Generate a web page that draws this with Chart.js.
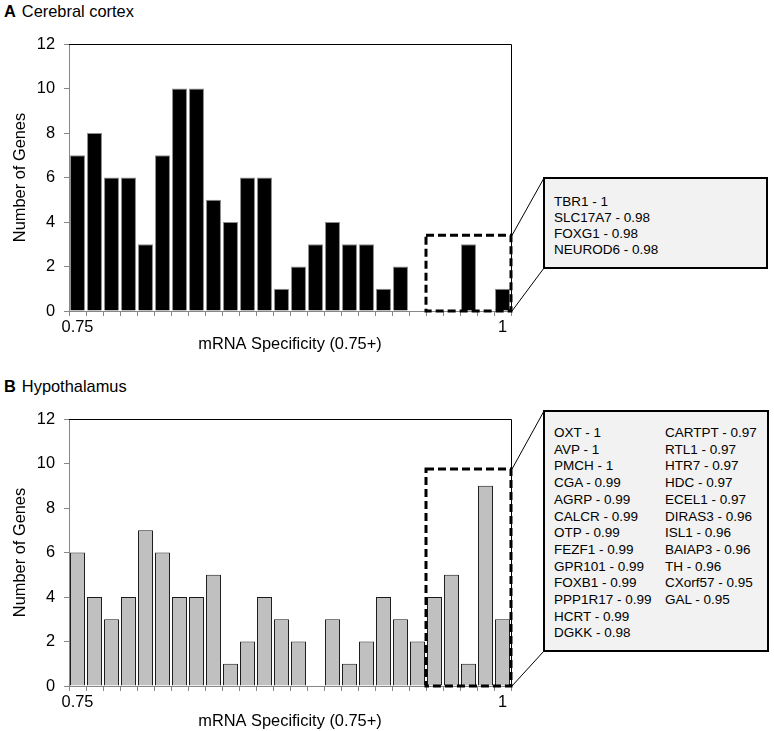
<!DOCTYPE html>
<html>
<head>
<meta charset="utf-8">
<script src="https://cdn.jsdelivr.net/npm/chart.js@4"></script>
<style>
  body { margin: 0; background: #fff; font-family: "Liberation Sans", Arial, sans-serif; }
  #page { position: relative; width: 774px; height: 731px; }
  canvas { position: absolute; left: 0; }
  .panel-title { position: absolute; left: 4px; font-size: 16.4px; line-height: 18px; }
  .panel-title b { margin-right: 6px; }
  .callout {
    position: absolute; box-sizing: border-box; left: 543px;
    border: 2px solid #000; background: #f2f2f2;
    font-size: 13.5px; color: #000; white-space: nowrap;
  }
  .callout .col { position: absolute; top: 0; }
</style>
</head>
<body>
<div id="page">
  <div class="panel-title" style="top:2px"><b>A</b>Cerebral cortex</div>
  <canvas id="cortex" width="774" height="360" style="top:0"></canvas>
  <div class="callout" id="cortexBox" style="top:177px;width:225px;height:92px;padding:15px 0 0 9px;line-height:16px"></div>

  <div class="panel-title" style="top:377px"><b>B</b>Hypothalamus</div>
  <canvas id="hypo" width="774" height="356" style="top:375px"></canvas>
  <div class="callout" id="hypoBox" style="top:410px;width:226px;height:242px;line-height:16.7px">
    <div class="col" id="hypoCol1" style="left:9px;top:13px"></div>
    <div class="col" id="hypoCol2" style="left:120px;top:13px"></div>
  </div>
</div>
<script>
// bins of mRNA specificity, 0.75 .. 1
const specificity = ["0.75", "0.76", "0.77", "0.78", "0.79", "0.8", "0.81", "0.82", "0.83",
  "0.84", "0.85", "0.86", "0.87", "0.88", "0.89", "0.9", "0.91", "0.92", "0.93", "0.94",
  "0.95", "0.96", "0.97", "0.98", "0.99", "1"];

const cortexGenes = [7, 8, 6, 6, 3, 7, 10, 10, 5, 4, 6, 6, 1, 2, 3, 4, 3, 3, 1, 2, 0, 0, 0, 3, 0, 1];
const hypothalamusGenes = [6, 4, 3, 4, 7, 6, 4, 4, 5, 1, 2, 4, 3, 2, 0, 3, 1, 2, 4, 3, 2, 4, 5, 1, 9, 3];

// top genes listed in the callouts
const cortexTop = ["TBR1 - 1", "SLC17A7 - 0.98", "FOXG1 - 0.98", "NEUROD6 - 0.98"];
const hypoTopLeft = ["OXT - 1", "AVP - 1", "PMCH - 1", "CGA - 0.99", "AGRP - 0.99",
  "CALCR - 0.99", "OTP - 0.99", "FEZF1 - 0.99", "GPR101 - 0.99", "FOXB1 - 0.99",
  "PPP1R17 - 0.99", "HCRT - 0.99", "DGKK - 0.98"];
const hypoTopRight = ["CARTPT - 0.97", "RTL1 - 0.97", "HTR7 - 0.97", "HDC - 0.97",
  "ECEL1 - 0.97", "DIRAS3 - 0.96", "ISL1 - 0.96", "BAIAP3 - 0.96", "TH - 0.96",
  "CXorf57 - 0.95", "GAL - 0.95"];

document.getElementById("cortexBox").innerHTML = cortexTop.join("<br>");
document.getElementById("hypoCol1").innerHTML = hypoTopLeft.join("<br>");
document.getElementById("hypoCol2").innerHTML = hypoTopRight.join("<br>");

const FONT = { family: "'Liberation Sans', Arial, sans-serif", size: 16.4 };
const AXIS_GREY = "#878787";

// dashed zoom rectangle + connector lines to the callout box
const zoomBox = {
  id: "zoomBox",
  afterDraw(chart, args, opts) {
    const { ctx, chartArea: a, scales: { x, y } } = chart;
    const half = (x.getPixelForValue(1) - x.getPixelForValue(0)) / 2;
    const left = x.getPixelForValue(opts.from) - half;
    const top = y.getPixelForValue(opts.top);
    const bottom = y.getPixelForValue(0);

    ctx.save();
    // plot frame top and right
    ctx.strokeStyle = "#000";
    ctx.lineWidth = 1;
    ctx.beginPath();
    ctx.moveTo(a.left, a.top + 0.5);
    ctx.lineTo(a.right + 0.5, a.top + 0.5);
    ctx.lineTo(a.right + 0.5, a.bottom);
    ctx.stroke();

    ctx.lineWidth = 3;
    ctx.setLineDash([8, 4]);
    ctx.strokeRect(left, top, a.right - left, bottom - top);

    const box = document.getElementById(opts.callout);
    const cv = chart.canvas;
    const bx = box.offsetLeft - cv.offsetLeft + 1;
    const by1 = box.offsetTop - cv.offsetTop + 1;
    const by2 = by1 + box.offsetHeight - 2;
    ctx.setLineDash([]);
    ctx.lineWidth = 1;
    ctx.beginPath();
    ctx.moveTo(bx, by1);
    ctx.lineTo(a.right + 1, top);
    ctx.moveTo(bx, by2);
    ctx.lineTo(a.right + 1, bottom);
    ctx.stroke();
    ctx.restore();
  }
};

function makeChart(id, values, fill, border, axisHeight, titlePad, zoomTop, callout) {
  return new Chart(document.getElementById(id), {
    type: "bar",
    data: {
      labels: specificity,
      datasets: [{
        data: values,
        backgroundColor: fill,
        borderColor: border,
        borderWidth: 1,
        barPercentage: 0.88,
        categoryPercentage: 1.0
      }]
    },
    options: {
      responsive: false,
      animation: false,
      devicePixelRatio: 1,
      layout: { padding: { left: 0, top: 44, right: 263, bottom: 0 } },
      plugins: {
        legend: { display: false },
        tooltip: { enabled: false },
        zoomBox: { from: 21, top: zoomTop, callout: callout }
      },
      scales: {
        x: {
          afterFit: (s) => { s.height = axisHeight; },
          grid: { drawOnChartArea: false, tickLength: 5, color: AXIS_GREY, offset: true },
          border: { color: AXIS_GREY },
          ticks: {
            autoSkip: false, maxRotation: 0, padding: 2, color: "#000", font: FONT,
            callback: (v, i) => (i === 0 || i === specificity.length - 1) ? specificity[i] : ""
          },
          title: {
            display: true, text: "mRNA Specificity (0.75+)", color: "#000", font: FONT,
            padding: { top: 0, bottom: titlePad }
          }
        },
        y: {
          min: 0, max: 12,
          afterFit: (s) => { s.width = 69; },
          grid: { drawOnChartArea: false, tickLength: 5, color: AXIS_GREY },
          border: { color: AXIS_GREY },
          ticks: { stepSize: 2, padding: 9, color: "#000", font: FONT },
          title: {
            display: true, text: "Number of Genes", color: "#000", font: FONT,
            padding: { top: 11, bottom: 0 }
          }
        }
      }
    },
    plugins: [zoomBox]
  });
}

makeChart("cortex", cortexGenes, "#000", "#8c8c8c", 49, 6, 3.4, "cortexBox");
makeChart("hypo", hypothalamusGenes, "#c0c0c0", "#1a1a1a", 45, 0, 9.75, "hypoBox");
</script>
</body>
</html>
